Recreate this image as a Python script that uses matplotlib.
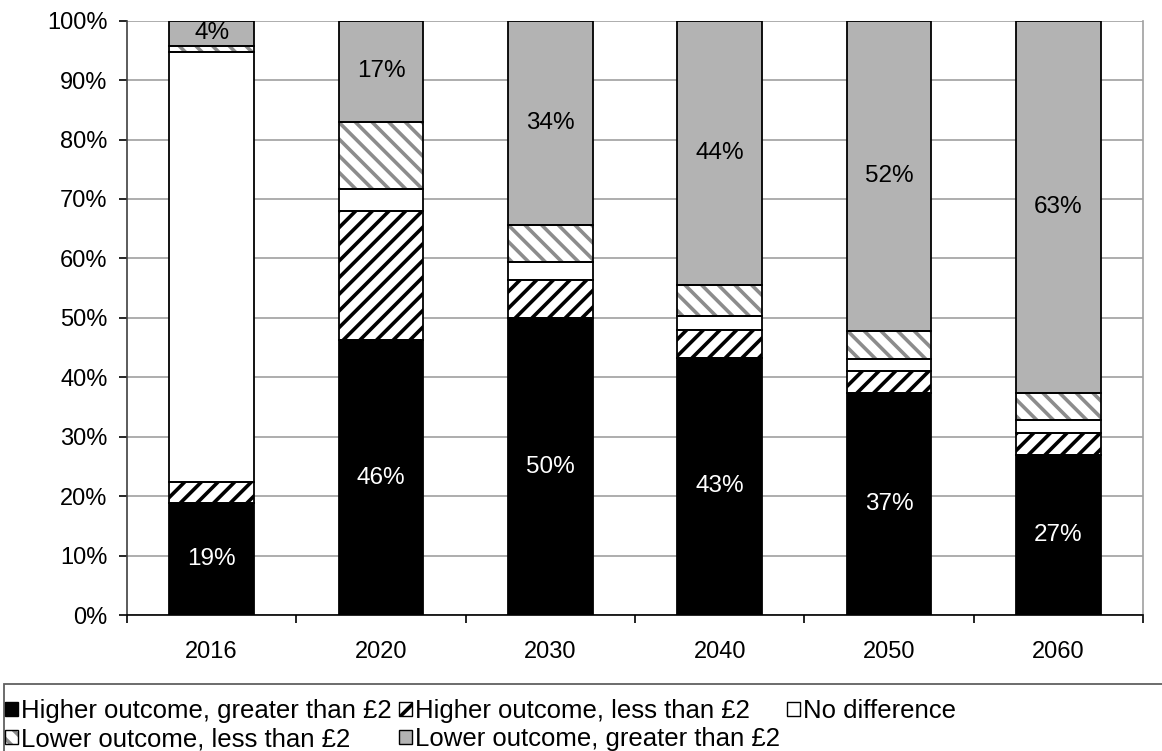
import matplotlib
matplotlib.use("Agg")
import matplotlib.pyplot as plt
from matplotlib.patches import Rectangle, Patch
from matplotlib.legend_handler import HandlerTuple
import numpy as np

years = ["2016", "2020", "2030", "2040", "2050", "2060"]
series_names = [
    "Higher outcome, greater than £2",
    "Higher outcome, less than £2",
    "No difference",
    "Lower outcome, less than £2",
    "Lower outcome, greater than £2",
]
higher_gt2 = [18.9, 46.2, 49.9, 43.3, 37.3, 26.9]
higher_lt2 = [3.5, 21.7, 6.4, 4.7, 3.8, 3.8]
no_diff = [72.4, 3.7, 3.1, 2.3, 2.0, 2.1]
lower_lt2 = [0.9, 11.4, 6.2, 5.2, 4.7, 4.5]
lower_gt2 = [4.3, 17.0, 34.4, 44.4, 52.2, 62.7]

plt.rcParams['font.family'] = ['Liberation Sans', 'DejaVu Sans']
plt.rcParams['hatch.linewidth'] = 2.6

fig = plt.figure(figsize=(11.62, 7.51), dpi=100)
ax = fig.add_axes([127/1162, (751-615)/751, (1143-127)/1162, (615-20.7)/751])

x = np.arange(len(years))
w = 0.5
series = [higher_gt2, higher_lt2, no_diff, lower_lt2, lower_gt2]
fills = ['#000000', '#ffffff', '#ffffff', '#ffffff', '#b3b3b3']
hatches = [None, '//', None, '\\\\', None]
hcols = ['#000000', '#000000', '#ffffff', '#8c8c8c', '#b3b3b3']

bottom = np.zeros(len(years))
containers = []
for vals, fc, hh, hc in zip(series, fills, hatches, hcols):
    vals = np.array(vals)
    if hh:
        ax.bar(x, vals, w, bottom=bottom, color=fc, edgecolor=hc, hatch=hh,
               linewidth=0, zorder=2)
    else:
        ax.bar(x, vals, w, bottom=bottom, color=fc, linewidth=0, zorder=2)
    c = ax.bar(x, vals, w, bottom=bottom, facecolor='none', edgecolor='#000000',
               linewidth=1.3, zorder=3)
    containers.append(c)
    bottom += vals

lab_fs = 17.5
ax.bar_label(containers[0], labels=[f"{round(v)}%" for v in higher_gt2],
             label_type='center', color='white', fontsize=lab_fs, zorder=4)
ax.bar_label(containers[4], labels=[f"{round(v)}%" for v in lower_gt2],
             label_type='center', color='black', fontsize=lab_fs, zorder=4)

ax.set_ylim(0, 100)
ax.set_xlim(-0.5, len(years) - 0.5)
ax.set_yticks(np.arange(0, 101, 10))
ax.set_yticklabels([f"{v}%" for v in range(0, 101, 10)], fontsize=17)
ax.yaxis.grid(True, color='#a0a0a0', linewidth=1.2, zorder=0)
ax.set_axisbelow(True)
ax.set_xticks(x)
ax.set_xticklabels(years, fontsize=17)
ax.set_xticks(np.arange(-0.5, len(years)), minor=True)
ax.tick_params(axis='x', which='major', length=0, pad=19)
ax.tick_params(axis='x', which='minor', length=6, width=1.2, direction='out', color='#000000')
ax.tick_params(axis='y', length=6, width=1.2, direction='out', pad=8, color='#000000')
ax.spines['top'].set_visible(False)
ax.spines['right'].set_color('#a0a0a0')
ax.spines['right'].set_linewidth(1.2)
ax.spines['left'].set_color('#404040')
ax.spines['left'].set_linewidth(1.2)
ax.spines['bottom'].set_color('#000000')
ax.spines['bottom'].set_linewidth(1.2)

# legend
handles = []
for name, fc, hh, hc in zip(series_names, fills, hatches, hcols):
    outline = Patch(facecolor='none', edgecolor='#000000', linewidth=1.0)
    if hh:
        inner = Patch(facecolor=fc, edgecolor=hc, hatch=hh, linewidth=0)
    else:
        inner = Patch(facecolor=fc, linewidth=0)
    handles.append((inner, outline))
order = [0, 3, 1, 4, 2]
leg = fig.legend([handles[i] for i in order], [series_names[i] for i in order],
                 handler_map={tuple: HandlerTuple(ndivide=1, pad=0)},
                 loc='upper left', bbox_to_anchor=(5/1162, (751-699)/751), ncol=3,
                 frameon=False, fontsize=18.5, handlelength=0.52, handleheight=0.45,
                 handletextpad=0.1, columnspacing=0.28, labelspacing=0.17,
                 borderaxespad=0.0, borderpad=0.0)
fig.patches.append(Rectangle((3.5/1162, -0.05), 1.1, (751-683.5)/751 + 0.05,
                             transform=fig.transFigure, facecolor='none',
                             edgecolor='#606060', linewidth=1.3))

fig.savefig("out.png", dpi=100)
